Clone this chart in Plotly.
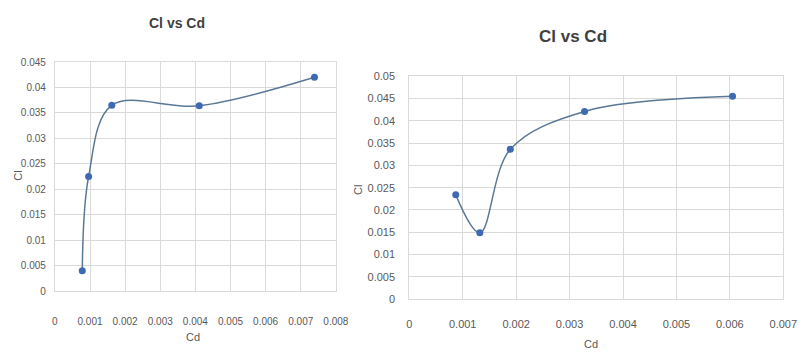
import plotly.graph_objects as go

# Lift coefficient vs drag coefficient, two test series
cd_left = [0.00078, 0.00096, 0.00162, 0.00411, 0.00739]
cl_left = [0.0040, 0.0225, 0.0365, 0.0364, 0.0420]

cd_right = [0.00087, 0.00132, 0.00189, 0.00328, 0.00605]
cl_right = [0.0234, 0.0149, 0.0336, 0.0421, 0.0455]

left_xticks = [0, 0.001, 0.002, 0.003, 0.004, 0.005, 0.006, 0.007, 0.008]
left_yticks = [0, 0.005, 0.01, 0.015, 0.02, 0.025, 0.03, 0.035, 0.04, 0.045]
right_xticks = [0, 0.001, 0.002, 0.003, 0.004, 0.005, 0.006, 0.007]
right_yticks = [0, 0.005, 0.01, 0.015, 0.02, 0.025, 0.03, 0.035, 0.04, 0.045, 0.05]

W, H = 811, 358
FONT = "Liberation Sans, Arial, sans-serif"
TICK_COLOR = "#595959"
TITLE_COLOR = "#404040"
GRID = "#d9d9d9"
LINE = "#5a7896"
MARK = "#3d6ab3"


def px_x(p):
    return p / W


def px_y(p):
    return 1 - p / H


def fmt(v):
    return "0" if v == 0 else ("%g" % v)


fig = go.Figure()

fig.add_trace(go.Scatter(
    x=cd_left, y=cl_left, mode="lines+markers", xaxis="x", yaxis="y",
    line=dict(color=LINE, width=1.5, shape="spline", smoothing=1.0),
    marker=dict(color=MARK, size=7), showlegend=False,
))
fig.add_trace(go.Scatter(
    x=cd_right, y=cl_right, mode="lines+markers", xaxis="x2", yaxis="y2",
    line=dict(color=LINE, width=1.5, shape="spline", smoothing=1.0),
    marker=dict(color=MARK, size=7), showlegend=False,
))

axis_common = dict(
    showgrid=True, gridcolor=GRID, gridwidth=1,
    showline=True, linecolor=GRID, mirror=True,
    zeroline=False, ticks="",
)

fig.update_layout(
    width=W, height=H,
    margin=dict(l=0, r=0, t=0, b=0),
    paper_bgcolor="white", plot_bgcolor="white",
    xaxis=dict(domain=[px_x(53), px_x(340)], range=[0, 0.008], anchor="y",
               tickvals=left_xticks, ticktext=[fmt(v) for v in left_xticks],
               tickfont=dict(family=FONT, size=10, color=TICK_COLOR),
               ticklabelstandoff=21, **axis_common),
    yaxis=dict(domain=[px_y(295), px_y(58)], range=[0, 0.045], anchor="x",
               tickvals=left_yticks, ticktext=[fmt(v) for v in left_yticks],
               tickfont=dict(family=FONT, size=10, color=TICK_COLOR),
               ticklabelstandoff=6, **axis_common),
    xaxis2=dict(domain=[px_x(415), px_x(797)], range=[0, 0.007], anchor="y2",
                tickvals=right_xticks, ticktext=[fmt(v) for v in right_xticks],
                tickfont=dict(family=FONT, size=11, color=TICK_COLOR),
                ticklabelstandoff=15, **axis_common),
    yaxis2=dict(domain=[px_y(303.3), px_y(72.7)], range=[0, 0.05], anchor="x2",
                tickvals=right_yticks, ticktext=[fmt(v) for v in right_yticks],
                tickfont=dict(family=FONT, size=11, color=TICK_COLOR),
                ticklabelstandoff=11, **axis_common),
)

annotations = [
    dict(text="<b>Cl vs Cd</b>", x=px_x(178), y=px_y(18), font=dict(family=FONT, size=14, color=TITLE_COLOR)),
    dict(text="<b>Cl vs Cd</b>", x=px_x(582), y=px_y(32), font=dict(family=FONT, size=17, color=TITLE_COLOR)),
    dict(text="Cd", x=px_x(194), y=px_y(342), font=dict(family=FONT, size=11, color=TICK_COLOR)),
    dict(text="Cd", x=px_x(601), y=px_y(350), font=dict(family=FONT, size=11, color=TICK_COLOR)),
    dict(text="Cl", x=px_x(15), y=px_y(176), textangle=-90, font=dict(family=FONT, size=11, color=TICK_COLOR)),
    dict(text="Cl", x=px_x(362), y=px_y(190), textangle=-90, font=dict(family=FONT, size=11, color=TICK_COLOR)),
]
for a in annotations:
    a.update(xref="paper", yref="paper", showarrow=False, xanchor="center", yanchor="middle")
fig.update_layout(annotations=annotations)

fig.write_html("out.html")
